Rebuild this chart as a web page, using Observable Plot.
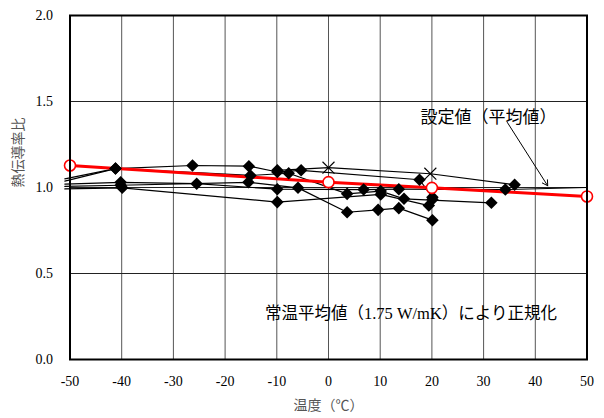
<!DOCTYPE html>
<html>
<head>
<meta charset="utf-8">
<script src="https://cdn.jsdelivr.net/npm/d3@7"></script>
<script src="https://cdn.jsdelivr.net/npm/@observablehq/plot@0.6"></script>
<style>
  html, body { margin: 0; padding: 0; background: #fff; }
</style>
</head>
<body>
<div id="chart"></div>
<script>
// Temperature ticks (°C) and ratio ticks
const xTicks = [-50, -40, -30, -20, -10, 0, 10, 20, 30, 40, 50];
const yTicks = [0, 0.5, 1.0, 1.5, 2.0];

// Measured series (black lines, diamond markers)
const seriesA = [[-51, 1.05], [-41.2, 1.11], [-26.3, 1.128], [-15.4, 1.124], [-9.9, 1.09], [-5.3, 1.10], [17.6, 1.045], [20.1, 0.944]];
const seriesB = [[-51, 1.037], [-41.2, 1.11], [-15.1, 1.07], [-7.7, 1.083], [3.6, 0.963], [10.1, 0.979], [14.6, 0.934], [31.5, 0.911]];
const seriesC = [[-51, 1.02], [-40.2, 1.03], [-25.5, 1.022], [-9.9, 0.99], [6.8, 0.988], [13.6, 0.99], [34.2, 0.988], [50, 1.0]];
const seriesD = [[-51, 1.006], [-40.2, 1.013], [-15.5, 1.03], [-5.9, 0.998], [3.6, 0.856], [9.6, 0.87], [13.6, 0.88], [20.1, 0.81]];
const seriesE = [[-51, 0.992], [-39.9, 0.998], [-9.9, 0.915], [10.1, 0.96], [19.4, 0.895], [20.1, 0.93]];
// Series with cross markers at 0 and 20 °C (diamonds at its ends)
const seriesX = [[-9.9, 1.10], [0, 1.115], [19.7, 1.08], [36, 1.016]];
// Setting value (average) – red line
const avgX = [-50, 0, 20, 50];
const avgY = [1.128, 1.031, 0.998, 0.948];

// Annotation texts
const noteSet = "設定値（平均値）";
const noteNorm = "常温平均値（1.75 W/mK）により正規化";
const xLabel = "温度（℃）";
const yLabel = "熱伝導率比";

const black = [
  {name: "A", pts: seriesA}, {name: "B", pts: seriesB}, {name: "C", pts: seriesC},
  {name: "D", pts: seriesD}, {name: "E", pts: seriesE}
];
const lineRows = black.flatMap(s => s.pts.map(([x, y]) => ({s: s.name, x, y})));
const crossRows = seriesX.map(([x, y]) => ({s: "X", x, y}));
const crossMarks = crossRows.filter(d => d.x === 0 || d.x === 19.7);
const diamondRows = lineRows.filter(d => d.x > -50 && d.x < 50)
  .concat(crossRows.filter(d => d.x !== 0 && d.x !== 19.7));
const avgRows = avgX.map((x, i) => ({x, y: avgY[i]}));

const serif = "'Liberation Serif', 'Times New Roman', 'Noto Sans CJK JP', serif";
const mixed = "'Liberation Serif', 'Noto Sans CJK JP', serif";
const cjk = "'Noto Sans CJK JP', sans-serif";

const chart = Plot.plot({
  width: 604,
  height: 418,
  marginLeft: 69.5,
  marginRight: 17.5,
  marginTop: 15,
  marginBottom: 59,
  style: {fontFamily: serif, background: "#fff", color: "#000"},
  x: {domain: [-50, 50]},
  y: {domain: [0, 2]},
  marks: [
    Plot.gridX(xTicks, {stroke: "#555", strokeOpacity: 1, strokeWidth: 1}),
    Plot.gridY(yTicks, {stroke: "#222", strokeOpacity: 1, strokeWidth: 1}),
    Plot.axisX(xTicks, {tickSize: 0, tickPadding: 17, fontSize: 14, label: null, tickFormat: d => String(d)}),
    Plot.axisY(yTicks, {tickSize: 0, tickPadding: 17, fontSize: 14, label: null, tickFormat: d => d.toFixed(1)}),
    Plot.line(lineRows, {x: "x", y: "y", z: "s", stroke: "#000", strokeWidth: 1.2}),
    Plot.line(crossRows, {x: "x", y: "y", stroke: "#000", strokeWidth: 1.2}),
    Plot.line(avgRows, {x: "x", y: "y", stroke: "#ff0000", strokeWidth: 3}),
    Plot.dot(diamondRows, {x: "x", y: "y", symbol: "square", r: 5, rotate: 45, fill: "#000", stroke: "none"}),
    Plot.dot(crossMarks, {x: "x", y: "y", symbol: "times", r: 5.5, stroke: "#000", strokeWidth: 1.1}),
    Plot.dot(avgRows, {x: "x", y: "y", symbol: "circle", r: 5.5, fill: "#fff", stroke: "#ff0000", strokeWidth: 1.6}),
    Plot.arrow([{x1: 34.6, y1: 1.378, x2: 42.4, y2: 1.01}], {x1: "x1", y1: "y1", x2: "x2", y2: "y2", stroke: "#000", strokeWidth: 1, headLength: 9, bend: 0}),
    Plot.text([{x: 17.8, y: 1.407, t: noteSet}], {x: "x", y: "y", text: "t", textAnchor: "start", fontSize: 17, fontFamily: cjk, fill: "#000"}),
    Plot.text([{x: -12.3, y: 0.267, t: noteNorm}], {x: "x", y: "y", text: "t", textAnchor: "start", fontSize: 16.5, fontFamily: mixed, fill: "#000"}),
    Plot.text([xLabel], {frameAnchor: "bottom", dy: 50, fontSize: 14, fontFamily: cjk, fill: "#555"}),
    Plot.text([yLabel], {frameAnchor: "left", dx: -51.5, rotate: -90, fontSize: 14, fontFamily: cjk, fill: "#555"}),
    Plot.frame({stroke: "#000", strokeWidth: 2})
  ]
});
document.getElementById("chart").appendChild(chart);
</script>
</body>
</html>
